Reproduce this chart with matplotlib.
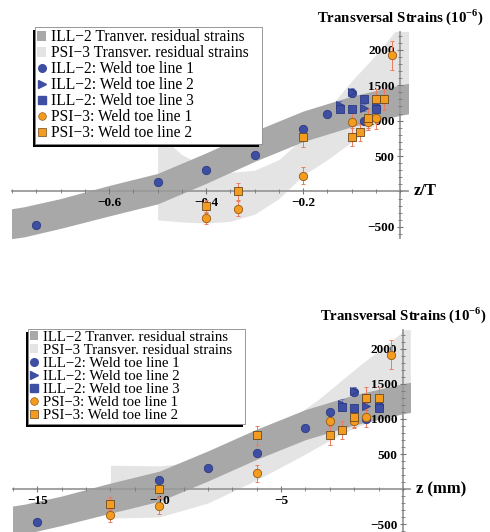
import matplotlib.pyplot as plt
from matplotlib.lines import Line2D
from matplotlib.patches import Patch, Rectangle

plt.rcParams["font.family"] = ["Liberation Serif", "DejaVu Serif"]
plt.rcParams["mathtext.fontset"] = "custom"
plt.rcParams["mathtext.rm"] = "Liberation Serif"
plt.rcParams["mathtext.bf"] = "Liberation Serif:bold"

# plate thicknesses [mm] used for z/T
T_ILL = 20.0
T_PSI = 30.0

# ILL-2 measurements, z [mm], strain [1e-6], error
ill1_z = [-15, -10, -8, -6, -4, -3, -2, -1.5, -1]
ill1_v = [-470, 130, 300, 510, 875, 1100, 1390, 1000, 1180]
ill1_e = [45, 40, 30, 30, 40, 40, 60, 40, 40]
ill2_z = [-2.5, -2, -1.5, -1]
ill2_v = [1220, 1400, 1180, 1220]
ill2_e = [60, 60, 50, 50]
ill3_z = [-2.5, -2, -1.5, -1]
ill3_v = [1170, 1160, 1300, 1160]
ill3_e = [60, 50, 60, 50]

# PSI-3 measurements
psi1_z = [-12, -10, -6, -3, -2, -1.5, -0.5]
psi1_v = [-375, -240, 225, 975, 975, 1030, 1920]
psi1_e = [90, 110, 120, 150, 110, 150, 210]
psi2_z = [-12, -10, -6, -3, -2.5, -2, -1.5, -1]
psi2_v = [-210, 5, 765, 765, 840, 1030, 1300, 1300]
psi2_e = [90, 120, 140, 130, 130, 140, 150, 150]

# ILL-2 residual strain band, z [mm] (same band in both panels)
band_ill_z = [-16.5, -15.5, -14, -12, -10, -8, -6, -4, -2, 0, 0.5]
band_ill_lo = [-690, -640, -520, -345, -175, 115, 425, 705, 915, 1075, 1105]
band_ill_hi = [-270, -215, -100, 85, 255, 545, 855, 1135, 1345, 1505, 1535]

# PSI-3 residual strain band, top panel, z/T
bandA_psi_x = [-0.5, -0.45, -0.4, -0.35, -0.3, -0.25, -0.2, -0.15, -0.1, -0.05, 0.0, 0.02]
bandA_psi_lo = [-400, -430, -445, -420, -320, -100, 230, 450, 700, 950, 1100, 1150]
bandA_psi_hi = [820, 520, 340, 270, 300, 450, 760, 1150, 1560, 1930, 2350, 2500]

# PSI-3 residual strain band, bottom panel, z [mm]
bandB_psi_x = [-12, -10, -8, -6, -4, -3.5, -2.6, -1.8, -0.94, 0, 0.3]
bandB_psi_lo = [-415, -400, -200, 130, 500, 600, 770, 900, 1000, 1080, 1100]
bandB_psi_hi = [340, 330, 400, 650, 1150, 1270, 1530, 1760, 1990, 2250, 2350]

BLUE = "#3d4ea3"
ORANGE = "#f39c1f"
DARK = "#a8a8a8"
LIGHT = "#e4e4e4"
ERR_BLUE = "#6c78c0"
ERR_ORANGE = "#ec7b5e"


def panel(ax, sx_ill, sx_psi, band_psi, xlim, ylim, xticks, xlabels, minor_step, xname):
    ax.fill_between(band_psi[0], band_psi[1], band_psi[2], color=LIGHT, lw=0, zorder=1)
    ax.fill_between([z / sx_ill for z in band_ill_z], band_ill_lo, band_ill_hi, color=DARK, lw=0, zorder=2)

    sets = [
        (ill1_z, ill1_v, ill1_e, sx_ill, "o", BLUE, "#2c3a80", ERR_BLUE),
        (ill2_z, ill2_v, ill2_e, sx_ill, ">", BLUE, "#2c3a80", ERR_BLUE),
        (ill3_z, ill3_v, ill3_e, sx_ill, "s", BLUE, "#2c3a80", ERR_BLUE),
        (psi1_z, psi1_v, psi1_e, sx_psi, "o", ORANGE, "#9a5a10", ERR_ORANGE),
        (psi2_z, psi2_v, psi2_e, sx_psi, "s", ORANGE, "#6a4a20", ERR_ORANGE),
    ]
    for z, v, e, s, m, fc, ec, erc in sets:
        x = [zi / s for zi in z]
        ax.errorbar(x, v, yerr=e, fmt="none", ecolor=erc, elinewidth=0.7, capsize=1.5, capthick=0.7, zorder=3)
        ax.plot(x, v, ls="none", marker=m, ms=6.0, mfc=fc, mec=ec, mew=0.6, zorder=4)

    ax.set_xlim(*xlim)
    ax.set_ylim(*ylim)
    ax.set_axisbelow(False)
    for side in ("top", "right"):
        ax.spines[side].set_visible(False)
    ax.spines["left"].set_position(("data", 0))
    ax.spines["bottom"].set_position(("data", 0))
    for side in ("left", "bottom"):
        ax.spines[side].set_color("#9a9a9a")
        ax.spines[side].set_linewidth(1.3)
        ax.spines[side].set_zorder(2.5)
    ax.set_xticks(xticks, labels=xlabels)
    minors = []
    t = xlim[0] - (xlim[0] % minor_step)
    while t < xlim[1]:
        minors.append(t)
        t += minor_step
    ax.set_xticks(minors, minor=True)
    ax.set_yticks([-500, 500, 1000, 1500, 2000], labels=["\u2212500", "500", "1000", "1500", "2000"])
    ax.set_yticks([v for v in range(-600, 2300, 100)], minor=True)
    ax.tick_params(which="major", direction="inout", length=4, width=0.8, color="#777777",
                   labelsize=9.5, pad=2)
    ax.tick_params(which="minor", direction="inout", length=2.5, width=0.6, color="#777777")
    for lab in ax.get_xticklabels() + ax.get_yticklabels():
        lab.set_fontweight("bold")
    ax.set_facecolor("none")

    ax.annotate(xname, xy=(1.0, 0), xycoords=("axes fraction", "data"), xytext=(4, 0),
                textcoords="offset points", ha="left", va="center", fontsize=12, fontweight="bold")
    ax.annotate(r"Transversal Strains (10$^{\mathbf{-6}}$)", xy=(0, 1.0), xycoords=("data", "axes fraction"),
                xytext=(0, 11), textcoords="offset points", ha="center", va="center",
                fontsize=10.7, fontweight="bold")


def legend(fig, ax, x0, y0, size):
    handles = [
        Patch(facecolor=DARK, edgecolor="none"),
        Patch(facecolor=LIGHT, edgecolor="none"),
        Line2D([], [], ls="none", marker="o", ms=5.5, mfc=BLUE, mec=BLUE),
        Line2D([], [], ls="none", marker=">", ms=5.5, mfc=BLUE, mec=BLUE),
        Line2D([], [], ls="none", marker="s", ms=5.5, mfc=BLUE, mec=BLUE),
        Line2D([], [], ls="none", marker="o", ms=5.5, mfc=ORANGE, mec="#9a5a10", mew=0.5),
        Line2D([], [], ls="none", marker="s", ms=5.5, mfc=ORANGE, mec="#6a4a20", mew=0.5),
    ]
    labels = [
        "ILL\u22122 Tranver. residual strains",
        "PSI\u22123 Transver. residual strains",
        "ILL\u22122: Weld toe line 1",
        "ILL\u22122: Weld toe line 2",
        "ILL\u22122: Weld toe line 3",
        "PSI\u22123: Weld toe line 1",
        "PSI\u22123: Weld toe line 2",
    ]
    leg = ax.legend(handles, labels, loc="upper left", bbox_to_anchor=(x0 / 490, 1 - y0 / 532),
                    bbox_transform=fig.transFigure, fontsize=size, frameon=False,
                    borderpad=0.15, labelspacing=0.0,
                    handlelength=0.55, handleheight=0.55, handletextpad=0.3, borderaxespad=0)
    leg.set_zorder(10)
    return leg


fig = plt.figure(figsize=(4.9, 5.32), dpi=100)
ax1 = fig.add_axes([12 / 490, 1 - 238 / 532, 396 / 490, 206 / 532])
ax2 = fig.add_axes([13 / 490, 0.0, 397 / 490, 202 / 532])

panel(ax1, T_ILL, T_PSI, (bandA_psi_x, bandA_psi_lo, bandA_psi_hi),
      (-0.773, 0.016), (-656, 2250), [-0.6, -0.4, -0.2], ["\u22120.6", "\u22120.4", "\u22120.2"], 0.05, "z/T")
panel(ax2, 1.0, 1.0, (bandB_psi_x, bandB_psi_lo, bandB_psi_hi),
      (-15.98, 0.29), (-614, 2271), [-15, -10, -5], ["\u221215", "\u221210", "\u22125"], 1.0, "z (mm)")

legs = [(ax1, legend(fig, ax1, 35, 27, 11.2)), (ax2, legend(fig, ax2, 28, 329, 10.7))]

fig.canvas.draw()
r = fig.canvas.get_renderer()
for ax, leg in legs:
    bb = leg.get_window_extent(r).transformed(fig.transFigure.inverted())
    w = bb.width + 11 / 490
    shadow = Rectangle((bb.x0 - 2.5 / 490, bb.y0 - 3 / 532), w, bb.height, transform=fig.transFigure,
                       facecolor="black", edgecolor="none", zorder=9, clip_on=False)
    frame = Rectangle((bb.x0, bb.y0), w, bb.height, transform=fig.transFigure,
                      facecolor="white", edgecolor="#888888", lw=0.6, zorder=9.5, clip_on=False)
    ax.add_artist(shadow)
    ax.add_artist(frame)

fig.savefig("out.png", dpi=100)
